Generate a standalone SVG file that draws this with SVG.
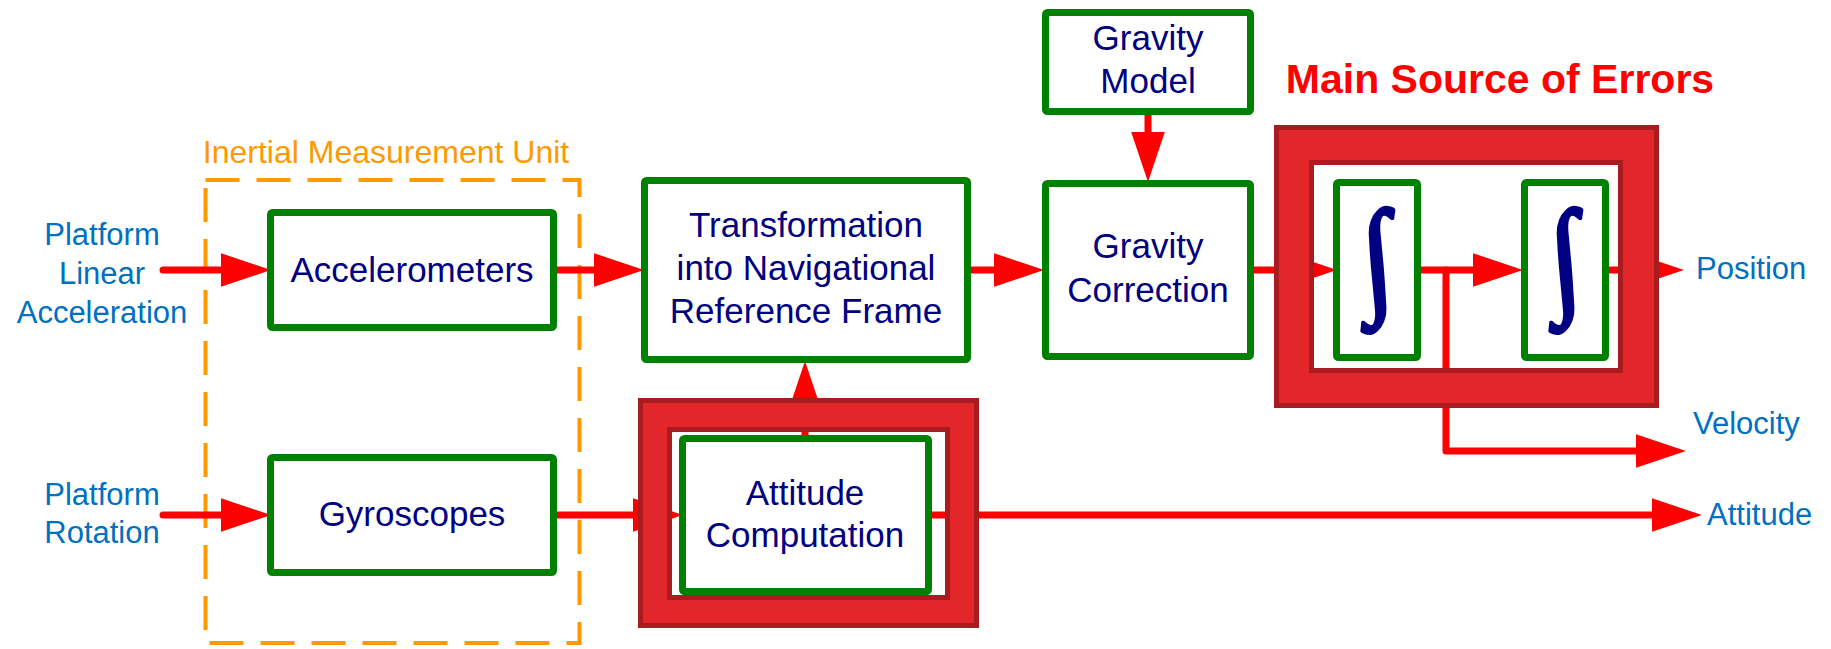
<svg xmlns="http://www.w3.org/2000/svg" width="1831" height="649" viewBox="0 0 1831 649">
<style>
.box{fill:#fff;stroke:#008000;stroke-width:7;}
.nt{font-family:"Liberation Sans",Arial,sans-serif;font-size:35px;fill:#000080;text-anchor:middle;}
.lbl{font-family:"Liberation Sans",Arial,sans-serif;font-size:31px;fill:#0070C0;}
.mid{text-anchor:middle;}
.conn{fill:none;stroke:#FF0000;stroke-width:7;stroke-linecap:round;stroke-linejoin:round;marker-end:url(#ah);}
.frame{fill:#E3262A;fill-rule:evenodd;stroke:#A81C20;stroke-width:5;}
.integral{font-family:"Liberation Serif","DejaVu Serif",serif;font-size:128px;fill:#000080;stroke:#000080;stroke-width:3.5;stroke-linejoin:round;text-anchor:middle;}
</style>
<defs>
<marker id="ah" markerUnits="userSpaceOnUse" markerWidth="50" markerHeight="34" viewBox="0 0 49 33" refX="2" refY="16.5" orient="auto">
<path d="M0,0 L49,16.5 L0,33 Z" fill="#FF0000"/>
</marker>
</defs>
<rect width="1831" height="649" fill="#fff"/>

<g id="imu">
<rect x="205.5" y="180" width="374" height="463" fill="none" stroke="#FF9900" stroke-width="4" stroke-dasharray="34 17"/>
<text x="386" y="163" font-family="Liberation Sans,Arial,sans-serif" font-size="32" fill="#FF9900" text-anchor="middle">Inertial Measurement Unit</text>
</g>

<g id="connectors">
<path class="conn" d="M163,270 H223"/>
<path class="conn" d="M553,270 H596"/>
<path class="conn" d="M967,270 H996"/>
<path class="conn" d="M1148,113 V134"/>
<path class="conn" d="M1254,270 H1289"/>
<path class="conn" d="M1421,270 H1475"/>
<path class="conn" d="M1609,270 H1636"/>
<path class="conn" d="M1446,270 V451 H1638"/>
<path class="conn" d="M163,515 H223"/>
<path class="conn" d="M553,515 H635"/>
<path class="conn" d="M805,438 V409"/>
<path class="conn" d="M932,515 H1654"/>
</g>

<g id="errors-frame">
<path class="frame" d="M1276.5,127.5 H1656.5 V405.5 H1276.5 Z M1311.5,162.5 H1620.5 V370.5 H1311.5 Z"/>
<text x="1500" y="93" font-family="Liberation Sans,Arial,sans-serif" font-size="41" font-weight="bold" fill="#FF0000" text-anchor="middle">Main Source of Errors</text>
</g>

<g id="attitude-frame">
<path class="frame" d="M640.5,400.5 H976.5 V625.5 H640.5 Z M669.5,429.5 H947.5 V597.5 H669.5 Z"/>
</g>

<g id="in-linear">
<text class="lbl mid" x="102" y="245">Platform</text>
<text class="lbl mid" x="102" y="284">Linear</text>
<text class="lbl mid" x="102" y="323">Acceleration</text>
</g>
<g id="in-rotation">
<text class="lbl mid" x="102" y="505">Platform</text>
<text class="lbl mid" x="102" y="543">Rotation</text>
</g>

<g id="accelerometers">
<rect class="box" x="270.5" y="212.5" width="283" height="115" rx="2"/>
<text class="nt" x="412" y="282">Accelerometers</text>
</g>
<g id="gyroscopes">
<rect class="box" x="270.5" y="457.5" width="283" height="115" rx="2"/>
<text class="nt" x="412" y="526">Gyroscopes</text>
</g>
<g id="transformation">
<rect class="box" x="644.5" y="180.5" width="323" height="179" rx="2"/>
<text class="nt" x="806" y="237">Transformation</text>
<text class="nt" x="806" y="280">into Navigational</text>
<text class="nt" x="806" y="323">Reference Frame</text>
</g>
<g id="gravity-model">
<rect class="box" x="1045.5" y="12.5" width="205" height="99" rx="2"/>
<text class="nt" x="1148" y="50">Gravity</text>
<text class="nt" x="1148" y="93">Model</text>
</g>
<g id="gravity-correction">
<rect class="box" x="1045.5" y="183.5" width="205" height="173" rx="2"/>
<text class="nt" x="1148" y="258">Gravity</text>
<text class="nt" x="1148" y="302">Correction</text>
</g>
<g id="integrator1">
<rect class="box" x="1336.5" y="182.5" width="81" height="175" rx="2"/>
<text class="integral" transform="translate(1378,270) skewX(5) scale(0.88,1)" x="0" y="29">∫</text>
</g>
<g id="integrator2">
<rect class="box" x="1524.5" y="182.5" width="81" height="175" rx="2"/>
<text class="integral" transform="translate(1566,270) skewX(5) scale(0.88,1)" x="0" y="29">∫</text>
</g>
<g id="attitude-computation">
<rect class="box" x="682.5" y="438.5" width="246" height="153" rx="2"/>
<text class="nt" x="805" y="505">Attitude</text>
<text class="nt" x="805" y="547">Computation</text>
</g>

<g id="outputs">
<text class="lbl" x="1696" y="279">Position</text>
<text class="lbl" x="1693" y="434">Velocity</text>
<text class="lbl" x="1707" y="525">Attitude</text>
</g>
</svg>
